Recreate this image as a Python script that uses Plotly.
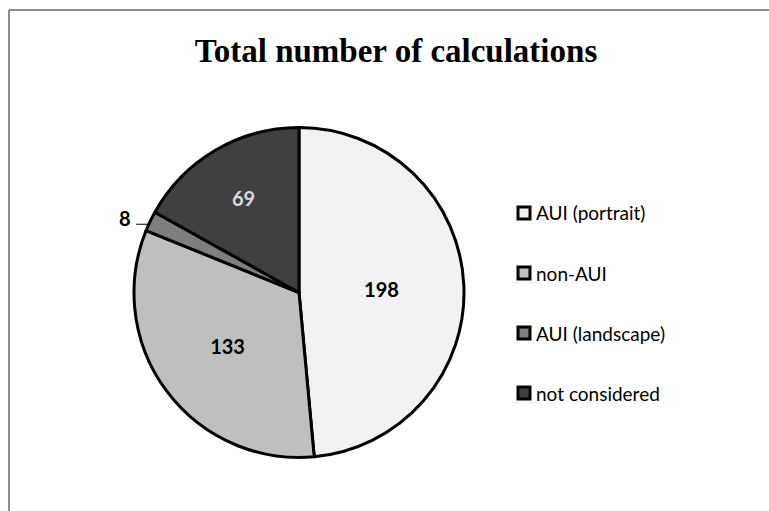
import math
import plotly.graph_objects as go

# Calculation counts per category
categories = ["AUI (portrait)", "non-AUI", "AUI (landscape)", "not considered"]
counts = [198, 133, 8, 69]
colors = ["#f2f2f2", "#bfbfbf", "#7f7f7f", "#404040"]
label_colors = ["#000000", "#000000", "#000000", "#d9d9d9"]
text_positions = ["inside", "inside", "none", "inside"]

W, H = 769, 511
cx, cy, r = 299, 292.5, 165  # pie centre / radius in pixels

fig = go.Figure()
fig.add_trace(go.Pie(
    labels=categories,
    values=counts,
    sort=False,
    direction="clockwise",
    rotation=0,
    marker=dict(colors=colors, line=dict(color="#000000", width=3)),
    textinfo="value",
    textposition=text_positions,
    insidetextorientation="horizontal",
    textfont=dict(family="Lato", size=20, color=label_colors, weight="bold"),
    domain=dict(x=[(cx - r) / W, (cx + r) / W],
                y=[(H - cy - r) / H, (H - cy + r) / H]),
    showlegend=False,
    hoverinfo="label+value",
))

shapes = []
annotations = []

# outer frame: only the left and top edges are visible
frame = dict(color="#8c8c8c", width=2)
shapes.append(dict(type="line", xref="paper", yref="paper",
                   x0=9 / W, x1=9 / W, y0=0, y1=1 - 10 / H, line=frame, layer="below"))
shapes.append(dict(type="line", xref="paper", yref="paper",
                   x0=9 / W, x1=1, y0=1 - 10 / H, y1=1 - 10 / H, line=frame, layer="below"))

# outside label with leader line for the small slice
total = sum(counts)
start = sum(counts[:2])
mid = (start + counts[2] / 2) / total * 2 * math.pi
ex = cx + r * math.sin(mid)
ey = cy - r * math.cos(mid)
lx0, ly0 = ex - 2, ey + 3
lx1 = lx0 - 12
shapes.append(dict(type="line", xref="paper", yref="paper",
                   x0=lx0 / W, x1=lx1 / W, y0=1 - ly0 / H, y1=1 - ly0 / H,
                   line=dict(color="#000000", width=1)))
annotations.append(dict(xref="paper", yref="paper", x=(lx1 - 3) / W, y=1 - (ly0 - 6) / H,
                        text="<b>%d</b>" % counts[2], showarrow=False,
                        xanchor="right", yanchor="middle",
                        font=dict(family="Lato", size=20, color="#000000")))

# legend drawn as boxes + labels
legend_y = [213, 273, 333, 393]
for cat, col, yy in zip(categories, colors, legend_y):
    shapes.append(dict(type="rect", xref="paper", yref="paper",
                       x0=518 / W, x1=530 / W, y0=1 - (yy + 6) / H, y1=1 - (yy - 6) / H,
                       line=dict(color="#000000", width=3), fillcolor=col))
    annotations.append(dict(xref="paper", yref="paper", x=534 / W, y=1 - yy / H,
                            text=cat, showarrow=False, xanchor="left", yanchor="middle",
                            font=dict(family="Lato", size=19, color="#000000")))

fig.update_layout(
    width=W, height=H,
    margin=dict(l=0, r=0, t=0, b=0),
    paper_bgcolor="#ffffff",
    plot_bgcolor="#ffffff",
    title=dict(text="<b>Total number of calculations</b>",
               x=396 / W, xref="paper", xanchor="center",
               y=1 - 50 / H, yref="paper", yanchor="middle",
               font=dict(family="Liberation Serif", size=33, color="#000000")),
    shapes=shapes,
    annotations=annotations,
)

fig.write_html("out.html")
